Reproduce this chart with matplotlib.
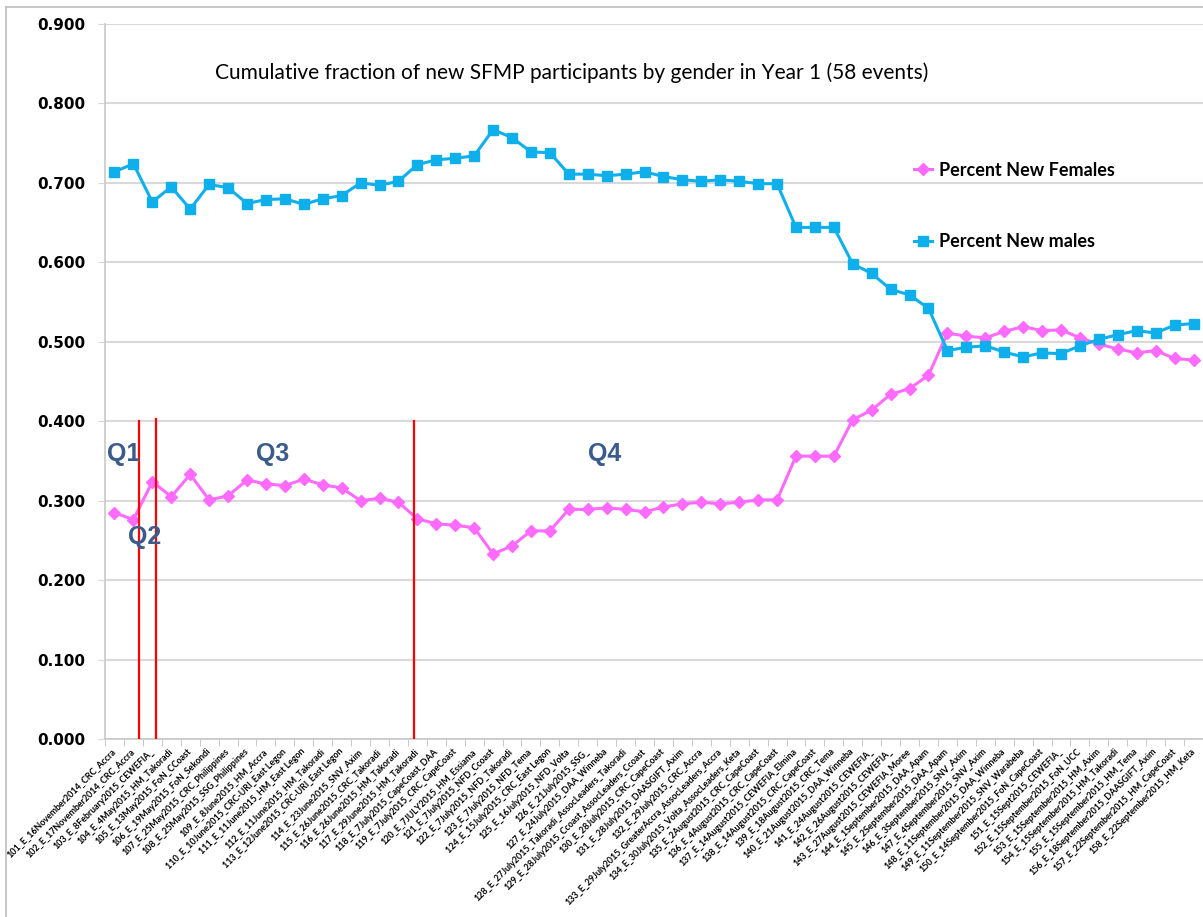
import numpy as np
import matplotlib.pyplot as plt
from matplotlib.lines import Line2D

# event labels (58 events)
eventos = [
    "101_E_16November2014_CRC_Accra", "102_E_17November2014_CRC_Accra",
    "103_E_8February2015_CEWEFIA_", "104_E_4May2015_HM_Takoradi",
    "105_E_13May2015_FoN_CCoast", "106_E_19May2015_FoN_Sekondi",
    "107_E_25May2015_CRC_Philippines", "108_E_25May2015_SSG_Philippines",
    "109_E_8June2015_HM_Accra", "110_E_10June2015_CRC-URI_East Legon",
    "111_E_11June2015_HM_East Legon", "112_E_11June2015_HM_Takoradi",
    "113_E_12June2015_CRC-URI_East Legon", "114_E_23June2015_SNV_Axim",
    "115_E_26June2015_CRC_Takoradi", "116_E_26June2015_HM_Takoradi",
    "117_E_29June2015_HM_Takoradi", "118_E_7July2015_CapeCoast_DAA",
    "119_E_7July2015_CRC_CapeCoast", "120_E_7JULY2015_HM_Essiama",
    "121_E_7July2015_NFD_Ccoast", "122_E_7July2015_NFD_Takoradi",
    "123_E_7July2015_NFD_Tema", "124_E_15July2015_CRC_East Legon",
    "125_E_16July2015_NFD_Volta", "126_E_21July2015_SSG_",
    "127_E_24July2015_DAA_Winneba", "128_E_27July2015_Takoradi_AssocLeaders_Takoradi",
    "129_E_28July2015_Ccoast_AssocLeaders_Ccoast", "130_E_28July2015_CRC_CapeCoast",
    "131_E_28July2015_DAASGIFT_Axim", "132_E_29July2015_CRC_Accra",
    "133_E_29July2015_GreaterAccra_AssocLeaders_Accra", "134_E_30July2015_Volta_AssocLeaders_Keta",
    "135_E_2August2015_CRC_CapeCoast", "136_E_4August2015_CRC_CapeCoast",
    "137_E_14August2015_CEWEFIA_Elmina", "138_E_14August2015_CRC_CapeCoast",
    "139_E_18August2015_CRC_Tema", "140_E_21August2015_DAA_Winneba",
    "141_E_24August2015_CEWEFIA_", "142_E_26August2015_CEWEFIA_",
    "143_E_27August2015_CEWEFIA_Moree", "144_E_1September2015_DAA_Apam",
    "145_E_2September2015_DAA_Apam", "146_E_3September2015_SNV_Axim",
    "147_E_4September2015_SNV_Axim", "148_E_11September2015_DAA_Winneba",
    "149_E_11September2015_SNV_Warabeba", "150_E_14September2015_FoN_CapeCoast",
    "151_E_15Sept2015_CEWEFIA_", "152_E_15September2015_FoN_UCC",
    "153_E_15September2015_HM_Axim", "154_E_15September2015_HM_Takoradi",
    "155_E_15September2015_HM_Tema", "156_E_18September2015_DAASGIFT_Axim",
    "157_E_22September2015_HM_CapeCoast", "158_E_22September2015_HM_Keta",
]

mujeres = [0.285, 0.276, 0.324, 0.305, 0.333, 0.301, 0.306, 0.326, 0.321, 0.319,
           0.327, 0.320, 0.316, 0.300, 0.303, 0.298, 0.277, 0.271, 0.269, 0.266,
           0.233, 0.243, 0.262, 0.262, 0.289, 0.289, 0.291, 0.289, 0.286, 0.292,
           0.296, 0.298, 0.296, 0.298, 0.301, 0.301, 0.356, 0.356, 0.356, 0.402,
           0.414, 0.434, 0.441, 0.458, 0.511, 0.507, 0.505, 0.513, 0.519, 0.514,
           0.515, 0.505, 0.497, 0.491, 0.486, 0.489, 0.479, 0.477]

hombres = [0.714, 0.724, 0.676, 0.695, 0.667, 0.698, 0.694, 0.674, 0.679, 0.680,
           0.673, 0.680, 0.684, 0.700, 0.697, 0.702, 0.723, 0.729, 0.731, 0.734,
           0.767, 0.757, 0.739, 0.738, 0.711, 0.711, 0.709, 0.711, 0.714, 0.708,
           0.704, 0.702, 0.704, 0.702, 0.699, 0.699, 0.644, 0.644, 0.644, 0.598,
           0.586, 0.566, 0.559, 0.542, 0.489, 0.493, 0.495, 0.487, 0.481, 0.486,
           0.485, 0.495, 0.503, 0.509, 0.514, 0.511, 0.521, 0.523]

# quarter annotations (x in category index, y in value)
cuartos = ["Q1", "Q2", "Q3", "Q4"]
cuartos_x = [0.47, 1.58, 8.35, 25.9]
cuartos_y = [0.359, 0.254, 0.359, 0.359]
lineas_x = [1.32, 2.17, 15.8]
lineas_top = [0.400, 0.403, 0.400]

azul = '#0FAFEC'
rosa = '#FF6BFF'

x = np.arange(len(eventos))

fig = plt.figure(figsize=(12.03, 9.17), dpi=100)
ax = fig.add_axes([105/1203, 1 - 739/917, 1 - 105/1203, (739 - 24)/917])

ax.plot(x, mujeres, color=rosa, lw=2.2, marker='D', ms=6.5, label='Percent New Females', zorder=3)
ax.plot(x, hombres, color=azul, lw=2.2, marker='s', ms=6.5, label='Percent New males', zorder=3)

for lx, lt in zip(lineas_x, lineas_top):
    ax.plot([lx, lx], [0, lt], color='#FF0000', lw=1.6, zorder=4)

for q, qx, qy in zip(cuartos, cuartos_x, cuartos_y):
    ax.text(qx, qy, q, fontsize=18, fontweight='bold', color='#3B5B8C',
            family='Liberation Sans', ha='center', va='center', zorder=5)

ax.set_xlim(-0.5, len(eventos) - 0.5)
ax.set_ylim(0, 0.9)
ax.set_yticks(np.arange(0, 0.91, 0.1))
ax.set_yticklabels(['%.3f' % v for v in np.arange(0, 0.91, 0.1)],
                   fontsize=11, fontweight='bold', family='DejaVu Sans')
ax.yaxis.grid(True, color='#D9D9D9', lw=1.5)
ax.set_axisbelow(True)
ax.tick_params(axis='y', length=5, color='#D9D9D9', pad=9)

ax.set_xticks(x)
ax.set_xticklabels(eventos, rotation=45, ha='right', va='center', rotation_mode='anchor',
                   fontsize=6.4, fontweight='bold', family='Lato')
ax.set_xticks(np.arange(-0.5, len(eventos), 1), minor=True)
ax.tick_params(axis='x', which='major', length=0, pad=8)
ax.tick_params(axis='x', which='minor', length=5, color='#BFBFBF')

for s in ['top', 'right']:
    ax.spines[s].set_visible(False)
ax.spines['left'].set_color('#C8C8C8')
ax.spines['bottom'].set_color('#C8C8C8')
ax.spines['left'].set_linewidth(1.2)
ax.spines['bottom'].set_linewidth(1.2)

fig.text(572/1203, 1 - 73/917,
         'Cumulative fraction of new SFMP participants by gender in Year 1 (58 events)',
         fontsize=15, family='Lato', ha='center', va='center')

ax.legend(loc='upper left', bbox_to_anchor=(0.722, 0.83),
          frameon=False, handlelength=1.0, handletextpad=0.4, labelspacing=3.0,
          prop={'family': 'Lato', 'weight': 'bold', 'size': 13})

# borde de la figura
fig.add_artist(Line2D([6/1203, 6/1203], [0, 1 - 7/917], color='#BFBFBF', lw=1.2))
fig.add_artist(Line2D([6/1203, 1], [1 - 7/917, 1 - 7/917], color='#BFBFBF', lw=1.2))

plt.savefig('out.png', dpi=100)
